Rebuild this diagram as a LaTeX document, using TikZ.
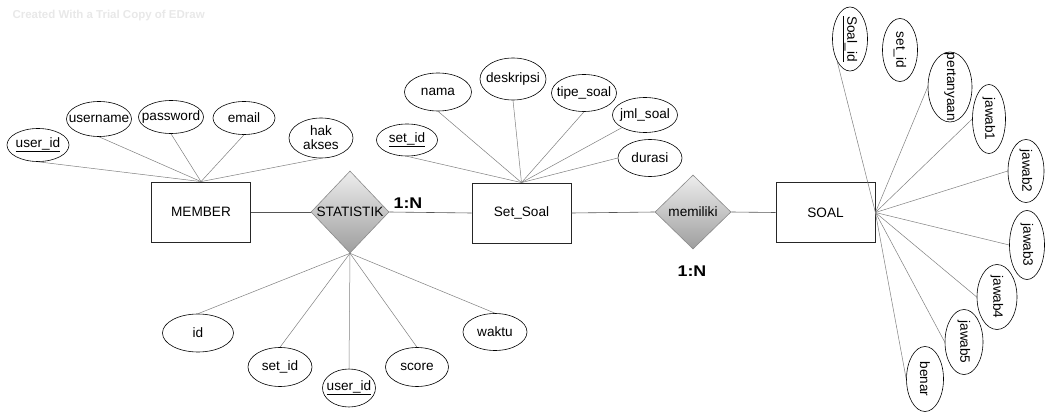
\documentclass[tikz,border=0pt]{standalone}
\usepackage{fontspec}
\setmainfont{Liberation Sans}
\usetikzlibrary{shapes.geometric}
\definecolor{attrgray}{HTML}{7F7F7F}
\definecolor{relgray}{HTML}{555555}
\definecolor{dgray}{HTML}{8A8A8A}
\definecolor{wmark}{HTML}{E8E8E8}
\begin{document}
\begin{tikzpicture}[x=1pt,y=-1pt,
  every node/.style={font=\fontsize{13.6}{15}\selectfont},
  lbl/.style={inner sep=0pt,draw=none,fill=none},
  entity/.style={draw=black!85,line width=0.8pt,rectangle,minimum width=99pt,minimum height=60pt,inner sep=0pt},
  attr/.style={draw=black,line width=0.6pt,ellipse,inner sep=0pt},
  vattr/.style={attr,minimum width=36pt,minimum height=65pt},
  rel/.style={draw=dgray,line width=0.6pt,diamond,inner sep=0pt,top color=black!7,bottom color=black!38},
  attrline/.style={draw=attrgray,line width=0.5pt},
  relline/.style={draw=relgray,line width=0.6pt},
  card/.style={font=\fontsize{15.5}{17}\selectfont\bfseries}
]
\useasboundingbox (0,0) rectangle (1045,412);
\node[anchor=west,text=wmark,font=\fontsize{11.5}{13}\selectfont\bfseries] (wm) at (9,16) {Created With a Trial Copy of EDraw};

% entities
\node[entity,label={[lbl]center:MEMBER}] (member) at (201,212) {};
\node[entity,label={[lbl]center:Set\_Soal}] (setsoal) at (521.5,213) {};
\node[entity,label={[lbl]center:SOAL}] (soal) at (825.5,212.5) {};

% relationships
\node[rel,minimum width=78pt,minimum height=82pt,label={[lbl]center:STATISTIK}] (stat) at (350,212) {};
\node[rel,minimum width=76pt,minimum height=74pt,label={[lbl]center:memiliki}] (mem) at (693,212) {};

\draw[relline] (member.east) -- (stat.west);
\draw[relline] (stat.east) -- (setsoal.west);
\draw[relline] (setsoal.east) -- (mem.west);
\draw[relline] (mem.east) -- (soal.west);

\node[card] (c1) at (408,203) {\scalebox{1.15}[1]{1:N}};
\node[card] (c2) at (692,271) {\scalebox{1.15}[1]{1:N}};

% MEMBER attributes
\node[attr,minimum width=62pt,minimum height=33pt,label={[lbl]center:\underline{user\_id}}] (muid) at (38,145) {};
\node[attr,minimum width=65pt,minimum height=35pt,label={[lbl]center:username}] (muname) at (99,119) {};
\node[attr,minimum width=65pt,minimum height=33pt,label={[lbl]center:password}] (mpass) at (171,117) {};
\node[attr,minimum width=62pt,minimum height=33pt,label={[lbl]center:email}] (memail) at (244,118) {};
\node[attr,minimum width=64pt,minimum height=40pt,label={[lbl,align=center,font=\fontsize{13.6}{14}\selectfont]center:hak\\akses}] (mhak) at (321,138) {};
\foreach \a in {muid,muname,mpass,memail,mhak} \draw[attrline] (\a.south) -- (member.north);

% Set_Soal attributes
\node[attr,minimum width=61pt,minimum height=32pt,label={[lbl]center:\underline{set\_id}}] (ssid) at (407,140) {};
\node[attr,minimum width=67pt,minimum height=38pt,label={[lbl]center:nama}] (snama) at (438,92) {};
\node[attr,minimum width=66pt,minimum height=42pt,label={[lbl]center:deskripsi}] (sdesk) at (513,79) {};
\node[attr,minimum width=65pt,minimum height=37pt,label={[lbl]center:tipe\_soal}] (stipe) at (584,93) {};
\node[attr,minimum width=65pt,minimum height=35pt,label={[lbl]center:jml\_soal}] (sjml) at (645,115) {};
\node[attr,minimum width=64pt,minimum height=37pt,label={[lbl]center:durasi}] (sdur) at (650,158) {};
\foreach \a in {ssid,snama,sdesk,stipe} \draw[attrline] (\a.south) -- (setsoal.north);
\draw[attrline] (sjml) -- (setsoal.north);
\draw[attrline] (sdur.west) -- (setsoal.north);

% STATISTIK attributes
\node[attr,minimum width=71pt,minimum height=38pt,label={[lbl]center:id}] (tid) at (198,333) {};
\node[attr,minimum width=64pt,minimum height=39pt,label={[lbl]center:set\_id}] (tsid) at (280,367) {};
\node[attr,minimum width=53pt,minimum height=38pt,label={[lbl]center:\underline{user\_id}}] (tuid) at (349,388) {};
\node[attr,minimum width=63pt,minimum height=39pt,label={[lbl]center:score}] (tscore) at (417,367) {};
\node[attr,minimum width=64pt,minimum height=37pt,label={[lbl]center:waktu}] (twaktu) at (495,332) {};
\foreach \a in {tid,tsid,tuid,tscore,twaktu} \draw[attrline] (\a.north) -- (stat.south);

% SOAL attributes (vertical)
\node[vattr,minimum width=35pt,minimum height=64pt,label={[lbl,rotate=-90]center:\underline{Soal\_id}}] (qid) at (850,39) {};
\node[vattr,minimum width=35pt,minimum height=63pt,label={[lbl,rotate=-90]center:set\_id}] (qsid) at (900,50) {};
\node[vattr,minimum width=44pt,minimum height=70pt,label={[lbl,rotate=-90]center:pertanyaan}] (qtanya) at (950,87) {};
\node[vattr,minimum width=33pt,minimum height=69pt,label={[lbl,rotate=-90]center:jawab1}] (qj1) at (989,119) {};
\node[vattr,minimum width=36pt,minimum height=63pt,label={[lbl,rotate=-90]center:jawab2}] (qj2) at (1026,171) {};
\node[vattr,minimum width=35pt,minimum height=69pt,label={[lbl,rotate=-90]center:jawab3}] (qj3) at (1027,245) {};
\node[vattr,minimum width=40pt,minimum height=65pt,label={[lbl,rotate=-90]center:jawab4}] (qj4) at (997,297) {};
\node[vattr,minimum width=38pt,minimum height=65pt,label={[lbl,rotate=-90]center:jawab5}] (qj5) at (964,342) {};
\node[vattr,minimum width=37pt,minimum height=65pt,label={[lbl,rotate=-90]center:benar}] (qbenar) at (925,379) {};
\draw[attrline] (qid.240) -- (soal.east);
\foreach \a in {qtanya,qj1,qj2,qj3,qj4,qj5,qbenar} \draw[attrline] (\a.west) -- (soal.east);
\end{tikzpicture}
\end{document}
